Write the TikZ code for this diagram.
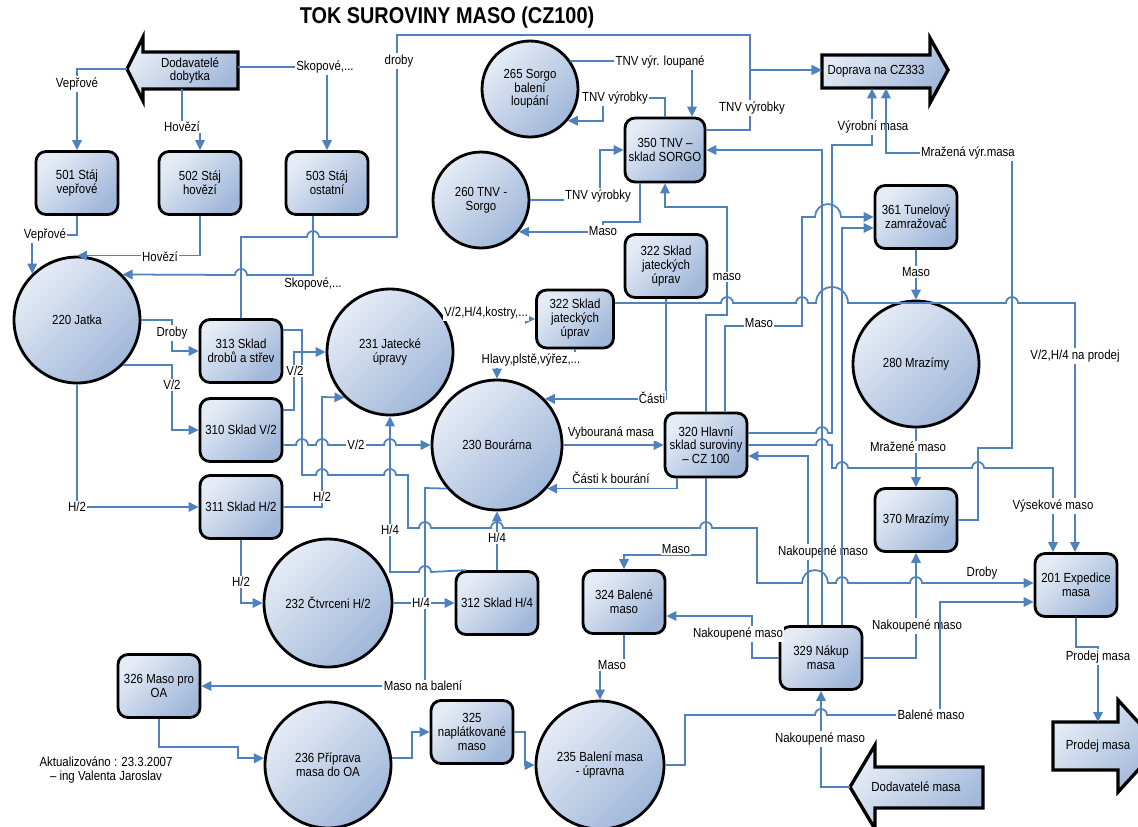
\documentclass[tikz,border=0pt]{standalone}
\usepackage{fontspec}
\setmainfont{Liberation Sans}[FakeStretch=0.87]
\usepackage{xcolor}
\usetikzlibrary{arrows.meta}

\definecolor{flowblue}{RGB}{79,129,189}
\definecolor{shadetop}{RGB}{230,236,246}
\definecolor{shadebot}{RGB}{160,183,217}

\newcommand{\nodefont}{\fontsize{7.5}{7.8}\selectfont}
\newcommand{\hopR}[3]{-- (#1-#3,#2) arc[start angle=180,end angle=0,radius=#3*0.02cm]}
\newcommand{\hopL}[3]{-- (#1+#3,#2) arc[start angle=0,end angle=180,radius=#3*0.02cm]}

\tikzset{
	fillshade/.style={draw=black, line width=1.6pt, top color=shadetop, bottom color=shadebot, shading angle=45},
	box/.style={fillshade, rectangle, rounded corners=0.2cm, minimum width=1.64cm, minimum height=1.26cm, inner sep=1pt, align=center, font=\nodefont},
	proc/.style={fillshade, circle, minimum size=2.56cm, inner sep=0pt, align=center, font=\nodefont},
	bigarrow/.style={fillshade, line width=1.9pt},
	arrowtext/.style={align=center, font=\nodefont, inner sep=0pt},
	flow/.style={draw=flowblue, line width=1pt, -{Triangle[length=2mm,width=1.9mm]}},
	lbl/.style={fill=white, inner sep=0.8pt, font=\nodefont}
}

\begin{document}
\begin{tikzpicture}[x=0.02cm, y=-0.02cm]
	\useasboundingbox (0,0) rectangle (1138,826);

	\node [font=\fontsize{13}{15}\selectfont\bfseries] (title) at (447,18) {TOK SUROVINY MASO (CZ100)};

	\path [bigarrow] (238,52) -- (143,52) -- (143,37) -- (127,69) -- (143,101) -- (143,89) -- (238,89) -- cycle;
	\node [arrowtext, minimum width=1.9cm, minimum height=0.74cm] (dob) at (190,70.5) {Dodavatelé\\dobytka};
	\coordinate (dobtip) at (127,69);

	\path [bigarrow] (822,55) -- (930,55) -- (930,38) -- (948,70) -- (930,103) -- (930,88) -- (822,88) -- cycle;
	\node [arrowtext, minimum width=2.16cm, minimum height=0.66cm] (dop) at (876,71.5) {Doprava na CZ333};

	\path [bigarrow] (1053,722) -- (1118,722) -- (1118,700) -- (1160,746) -- (1118,792) -- (1118,770) -- (1053,770) -- cycle;
	\node [arrowtext] (prod) at (1098,746) {Prodej masa};

	\path [bigarrow] (983,767) -- (875,767) -- (875,745) -- (850,787) -- (875,829) -- (875,808) -- (983,808) -- cycle;
	\node [arrowtext] (dmas) at (916,787) {Dodavatelé masa};
	\coordinate (dmastip) at (850,787);

	\node [box] (s501) at (77,183) {501 Stáj\\vepřové};
	\node [box] (s502) at (200,183) {502 Stáj\\hovězí};
	\node [box] (s503) at (327,183) {503 Stáj\\ostatní};
	\node [proc, minimum size=2.52cm] (jatka) at (77,320) {220 Jatka};
	\node [box] (s313) at (241,351) {313 Sklad\\drobů a střev};
	\node [box] (s310) at (241,430) {310 Sklad V/2};
	\node [box] (s311) at (241,507) {311 Sklad H/2};
	\node [proc, minimum size=2.52cm] (ju231) at (390,352) {231 Jatecké\\úpravy};
	\node [proc, minimum size=2.6cm] (bour) at (497,445) {230 Bourárna};
	\node [box, minimum width=1.54cm, minimum height=1.16cm] (s322b) at (575,319) {322 Sklad\\jateckých\\úprav};
	\node [box] (s322a) at (666,266) {322 Sklad\\jateckých\\úprav};
	\node [box, minimum width=1.6cm, minimum height=1.28cm] (s350) at (665,150) {350 TNV –\\sklad SORGO};
	\node [proc, minimum size=1.92cm] (sorgo) at (530,89) {265 Sorgo\\balení\\loupání};
	\node [proc, minimum size=1.92cm] (tnv) at (481,200) {260 TNV -\\Sorgo};
	\node [box, minimum height=1.28cm] (s320) at (706,445) {320 Hlavní\\sklad suroviny\\– CZ 100};
	\node [box] (s361) at (916,217) {361 Tunelový\\zamražovač};
	\node [proc, minimum size=2.52cm] (mraz) at (916,364) {280 Mrazímy};
	\node [box] (s370) at (916,520) {370 Mrazímy};
	\node [box] (s201) at (1076,585) {201 Expedice\\masa};
	\node [box] (s329) at (821,658) {329 Nákup\\masa};
	\node [box] (s324) at (624,602) {324 Balené\\maso};
	\node [box] (s312) at (497,603) {312 Sklad H/4};
	\node [proc] (ctv) at (328,603) {232 Čtvrceni H/2};
	\node [box] (s326) at (159,686) {326 Maso pro\\OA};
	\node [proc, minimum size=2.52cm] (pri) at (328,765) {236 Příprava\\masa do OA};
	\node [box] (s325) at (472,732) {325\\naplátkované\\maso};
	\node [proc] (bal) at (600,765) {235 Balení masa\\- úpravna};
	\node [align=center, font=\nodefont] (upd) at (106,770) {Aktualizováno : 23.3.2007\\– ing Valenta Jaroslav};

	\draw [flow] (dobtip) -| (s501.north) node [lbl] at (77,84) {Vepřové};
	\draw [flow] (dob.south -| 182,0) -- (182,127) -| (s502.north) node [lbl] at (182,127) {Hovězí};
	\draw [flow] (dob.east |- 0,67) -| (s503.north) node [lbl] at (325,67) {Skopové,...};

	\draw [flow] (s501.south) |- (45,235) -| (jatka.134) node [lbl] at (45,235) {Vepřové};
	\draw [flow] (s502.south) |- (jatka.north) node [lbl] at (160,257) {Hovězí};
	\draw [flow] (s503.south -| 313,0) -- (313,275) \hopL{241}{275}{6} -- (jatka.45) node [lbl, anchor=north] at (313,276) {Skopové,...};
	\draw [flow] (s313.north) -- (241,237) \hopR{313}{237}{6} -- (397,237) -- (397,35) -- (750,35) -- (750,70) -- (dop.west |- 0,70) node [lbl] at (399,61) {droby};

	\draw [flow] (jatka.east) -- (172,320) -- (172,351) -- (s313.west) node [lbl] at (172,333) {Droby};
	\draw [flow] (jatka.-44) -| (172,430) -- (s310.west) node [lbl] at (172,385) {V/2};
	\draw [flow] (jatka.south) |- (s311.west) node [lbl] at (77,507) {H/2};

	\draw [flow] (s313.east |- 0,330) -- (302,330) -- (302,475) \hopR{322}{475}{6} \hopR{390}{475}{6} -- (408,475) -- (408,528) \hopR{425}{528}{6} \hopR{497}{528}{6} \hopR{706}{528}{6} -- (757,528) -- (757,583) \hopR{815}{583}{13} \hopR{842}{583}{6} \hopR{916}{583}{6} -- (s201.west |- 0,583) node [lbl] at (982,573) {Droby};
	\draw [flow] (s310.east |- 0,410) -- (294,410) -- (294,352) -- (ju231.west) node [lbl] at (295,371) {V/2};
	\draw [flow] (s310.east |- 0,445) \hopR{302}{445}{6} \hopR{322}{445}{6} \hopR{390}{445}{6} -- (bour.west) node [lbl] at (356,445) {V/2};
	\draw [flow] (s311.east) -| (322,397) -- (ju231.225) node [lbl] at (322,497) {H/2};
	\draw [flow] (s311.south) |- (ctv.west) node [lbl] at (241,582) {H/2};

	\draw [flow] (bour.221) -- (425,488) -- (425,686) -- (s326.east) node [lbl] at (423,686) {Maso na balení};
	\draw [flow] (ctv.east) -- (s312.west) node [lbl] at (421,603) {H/4};
	\draw [flow] (s312.north) -- (bour.south) node [lbl] at (497,538) {H/4};
	\draw [flow] (s312.north -| 466,0) \hopL{425}{572}{6} -| (ju231.south) node [lbl] at (390,530) {H/4};

	\draw [flow] (ju231.32) -- (s322b.west) node [lbl] at (486,313) {V/2,H/4,kostry,...};
	\draw [flow] (s322b.south) |- (bour.north |- 0,360) -- (bour.north) node [lbl] at (531,360) {Hlavy,plstě,výřez,...};
	\draw [flow] (s322b.east |- 0,303) \hopR{727}{303}{6} \hopR{802}{303}{6} \hopR{832}{303}{16} \hopR{1012}{303}{6} -- (1075,303) -- (s201.north -| 1075,0) node [lbl] at (1075,356) {V/2,H/4 na prodej};
	\draw [flow] (s322a.south) |- (bour.44) node [lbl] at (652,398) {Části};

	\draw [flow] (bour.east) -- (s320.west) node [lbl] at (611,433) {Vybouraná masa};
	\draw [flow] (s320.south -| 677,0) |- (bour.-41) node [lbl] at (611,478) {Části k bourání};
	\draw [flow] (s320.south) |- (s324.north |- 0,555) -- (s324.north) node [lbl] at (676,549) {Maso};
	\draw [flow] (s320.north) -- (706,315) -- (727,315) -- (727,207) -| (s350.south) node [lbl] at (727,277) {maso};
	\draw [flow] (s320.north -| 725,0) -- (725,326) -- (802,326) -- (802,217) \hopR{828}{217}{13} -- (s361.west |- 0,217) node [lbl] at (759,323) {Maso};
	\draw [flow] (s320.east |- 0,433) \hopR{822}{433}{6} -- (832,433) -- (832,145) -- (872,145) -- (dop.south -| 872,0) node [lbl] at (873,127) {Výrobní masa};
	\draw [flow] (s320.east |- 0,445) \hopR{822}{445}{6} -- (832,445) -- (832,468) \hopR{842}{468}{6} \hopR{978}{468}{6} -- (1053,468) -- (s201.north -| 1053,0) node [lbl] at (1053,506) {Výsekové maso};

	\draw [flow] (s329.north -| 808,0) -- (808,456) -- (s320.east |- 0,456) node [lbl] at (823,552) {Nakoupené maso};
	\draw [flow] (s329.north -| 822,0) -- (822,150) -- (s350.east |- 0,150);
	\draw [flow] (s329.north -| 842,0) -- (842,228) -- (s361.west |- 0,228);
	\draw [flow] (s329.west) -| (752,616) -- (s324.east |- 0,616) node [lbl] at (738,634) {Nakoupené maso};
	\draw [flow] (s329.east) -| (s370.south) node [lbl] at (917,626) {Nakoupené maso};
	\draw [flow] (dmastip) -| (s329.south) node [lbl] at (820,739) {Nakoupené maso};

	\draw [flow] (s361.south) -- (mraz.north) node [lbl] at (916,272) {Maso};
	\draw [flow] (mraz.south) -- (s370.north) node [lbl] at (908,447) {Mražené maso};
	\draw [flow] (s370.east) -- (978,520) -- (978,448) -- (1012,448) -- (1012,153) -- (886,153) -- (dop.south -| 886,0) node [lbl] at (968,153) {Mražená výr.masa};

	\draw [flow] (bal.east) -- (685,765) -- (685,715) \hopR{821}{715}{6} -- (940,715) -- (940,602) -- (s201.west |- 0,602) node [lbl] at (931,715) {Balené maso};
	\draw [flow] (s201.south) -- (1076,647) -- (1098,647) -- (prod.north |- 0,722) node [lbl] at (1098,657) {Prodej masa};

	\draw [flow] (s324.south) |- (bal.north |- 0,665) -- (bal.north) node [lbl] at (612,665) {Maso};
	\draw [flow] (pri.6) -| (412,732) -- (s325.west);
	\draw [flow] (s325.east) -| (525,765) -- (bal.west);
	\draw [flow] (s326.south) -- (159,747) -- (238,747) |- (pri.174);

	\draw [flow] (sorgo.35) -| (s350.north -| 692,0) node [lbl] at (660,62) {TNV výr. loupané};
	\draw [flow] (s350.north) |- (603,98) |- (sorgo.-40) node [lbl] at (615,98) {TNV výrobky};
	\draw [flow] (tnv.east) -| (600,150) -- (s350.west) node [lbl] at (598,196) {TNV výrobky};
	\draw [flow] (s350.south -| 640,0) |- (603,222) |- (tnv.-40) node [lbl] at (603,231) {Maso};
	\draw [flow] (s350.east |- 0,130) -| (750,70) -- (dop.west |- 0,70) node [lbl] at (752,108) {TNV výrobky};
\end{tikzpicture}
\end{document}
